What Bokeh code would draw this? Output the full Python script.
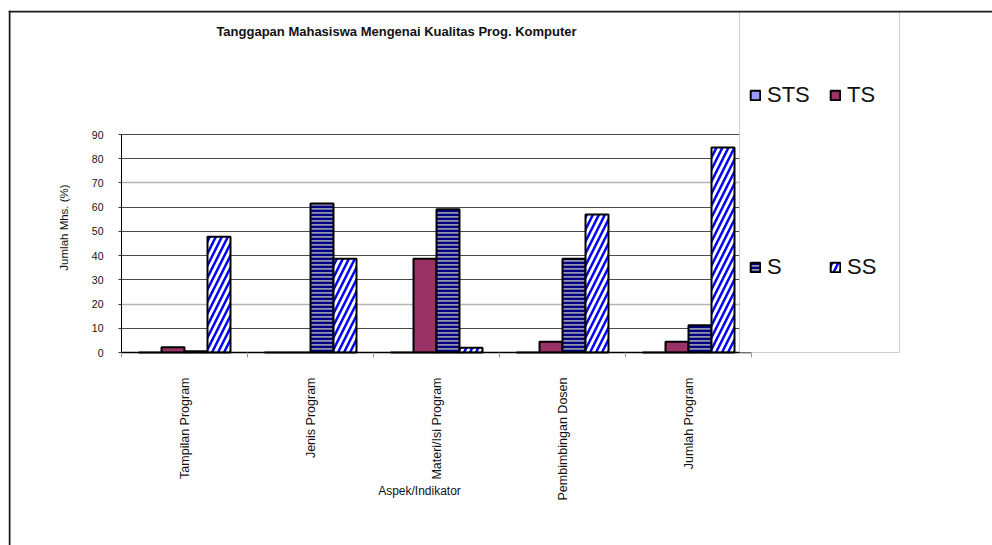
import math
from bokeh.plotting import figure
from bokeh.models import (ColumnDataSource, Range1d, LinearAxis, FixedTicker, Grid,
                          Span, BoxAnnotation, Label, Legend, LegendItem)
from bokeh.transform import dodge
from bokeh.embed import file_html
from bokeh.resources import INLINE

# ---------------- data ----------------
categories = ["Tampilan Program", "Jenis Program", "Materi/Isi Program",
              "Pembimbingan Dosen", "Jumlah Program"]
series_names = ["STS", "TS", "S", "SS"]
sts = [0, 0, 0, 0, 0]
ts = [2.2, 0, 38.7, 4.4, 4.4]
s = [0.5, 61.5, 59.1, 38.7, 11.3]
ss = [47.8, 38.7, 2.0, 57.0, 84.6]
y_ticks = [0, 10, 20, 30, 40, 50, 60, 70, 80, 90]
title_text = "Tanggapan Mahasiswa Mengenai Kualitas Prog. Komputer"
x_title = "Aspek/Indikator"
y_title = "Jumlah Mhs. (%)"

# ---------------- layout (pixels) ----------------
W, H = 992, 545
FL, FT = 8, 10            # frame left / top
AX0, CATW = 121, 126      # px of first category boundary, px per category
Y0, PPU = 352, 218 / 90   # px of value 0, px per unit

def xd(px):
    return (px - AX0) / CATW

def yd(py):
    return (Y0 - py) / PPU

FONT = "Liberation Sans"

p = figure(width=W, height=H, output_backend="svg", toolbar_location=None,
           x_range=Range1d(xd(FL), xd(W)), y_range=Range1d(yd(H), yd(FT)),
           x_axis_type=None, y_axis_type=None,
           min_border_left=FL, min_border_top=FT, min_border_right=0, min_border_bottom=0)
p.outline_line_color = None
p.background_fill_color = "white"
p.border_fill_color = "white"
p.xgrid.visible = False
p.ygrid.visible = False

n = len(categories)
centers = [i + 0.5 for i in range(n)]
source = ColumnDataSource(dict(x=centers, STS=sts, TS=ts, S=s, SS=ss))

# horizontal grid lines (the scanned original shows 20 and 70 lighter)
light = [20, 70]
dark_ticks = [t for t in y_ticks[1:] if t not in light]
p.add_layout(Grid(dimension=1, ticker=FixedTicker(ticks=dark_ticks),
                  grid_line_color="#4a4a4a", grid_line_width=1,
                  cross_bounds=(0, xd(739))))
p.add_layout(Grid(dimension=1, ticker=FixedTicker(ticks=light),
                  grid_line_color="#b4b4b4", grid_line_width=1.5,
                  cross_bounds=(0, xd(739))))

bw = 23 / CATW
styles = {
    "STS": dict(fill_color="#9999FF"),
    "TS": dict(fill_color="#993366"),
    "S": dict(fill_color="#9494AE", hatch_pattern="horizontal_line",
              hatch_color="#000080", hatch_weight=2.5, hatch_scale=4),
    "SS": dict(fill_color="white", hatch_pattern="right_diagonal_line",
               hatch_color="#0000FF", hatch_weight=2.5, hatch_scale=12),
}
rends = {}
for i, name in enumerate(series_names):
    off = (i - 1.5) * bw
    rends[name] = p.vbar(x=dodge("x", off), top=name, width=bw, bottom=0,
                         source=source, line_color="black", line_width=2,
                         **styles[name])

# axes
xaxis = LinearAxis(fixed_location=0, bounds=(0, n),
                   ticker=FixedTicker(ticks=centers, minor_ticks=list(range(n + 1))),
                   major_label_overrides={c: lab for c, lab in zip(centers, categories)},
                   major_label_orientation=math.pi / 2,
                   major_tick_out=0, major_tick_in=0,
                   minor_tick_out=5, minor_tick_in=0, minor_tick_line_color="#999999",
                   axis_line_color="black", axis_line_width=1.5,
                   major_label_standoff=20,
                   major_label_text_font=FONT, major_label_text_font_size="12.5px",
                   major_label_text_color="#111111")
p.add_layout(xaxis, "below")

yaxis = LinearAxis(fixed_location=0, bounds=(0, 90),
                   ticker=FixedTicker(ticks=y_ticks),
                   major_tick_out=3, major_tick_in=0, minor_tick_out=0, minor_tick_in=0,
                   major_tick_line_color="#333333",
                   axis_line_color="black", axis_line_width=1,
                   major_label_standoff=15,
                   major_label_text_font=FONT, major_label_text_font_size="10.5px",
                   major_label_text_color="#111111")
p.add_layout(yaxis, "left")

# legend panel box
box = BoxAnnotation(left=xd(739), right=xd(899), top=yd(11), bottom=0,
                    fill_color="white", fill_alpha=1.0,
                    line_color="#5a5a5a", line_width=1)
p.add_layout(box)

# outer page border (top and left)
p.add_layout(Span(location=yd(11), dimension="width", line_color="#1a1a1a", line_width=2))
p.add_layout(Span(location=xd(9), dimension="height", line_color="#1a1a1a", line_width=2))

# texts
p.add_layout(Label(x=xd(396), y=yd(31), text=title_text, text_align="center",
                   text_baseline="middle", text_font=FONT, text_font_size="13px",
                   text_font_style="bold", text_color="#111111"))
p.add_layout(Label(x=xd(419), y=yd(490), text=x_title, text_align="center",
                   text_baseline="middle", text_font=FONT, text_font_size="12px",
                   text_color="#111111"))
p.add_layout(Label(x=xd(63), y=yd(227), text=y_title, text_align="center",
                   text_baseline="middle", angle=math.pi / 2, text_font=FONT,
                   text_font_size="11.5px", text_color="#111111"))

# legends (two rows)
def make_legend(names, vy):
    lg = Legend(items=[LegendItem(label=nm, renderers=[rends[nm]]) for nm in names],
                location=(749 - FL, vy), orientation="horizontal",
                glyph_width=12, glyph_height=12, label_standoff=6,
                label_width=44, spacing=18, padding=0, margin=0,
                border_line_alpha=0, background_fill_alpha=0,
                label_text_font=FONT, label_text_font_size="22px",
                label_text_color="#111111")
    return lg

p.add_layout(make_legend(["STS", "TS"], H - 108))
p.add_layout(make_legend(["S", "SS"], H - 280))

open("out.html", "w").write(file_html(p, INLINE))
